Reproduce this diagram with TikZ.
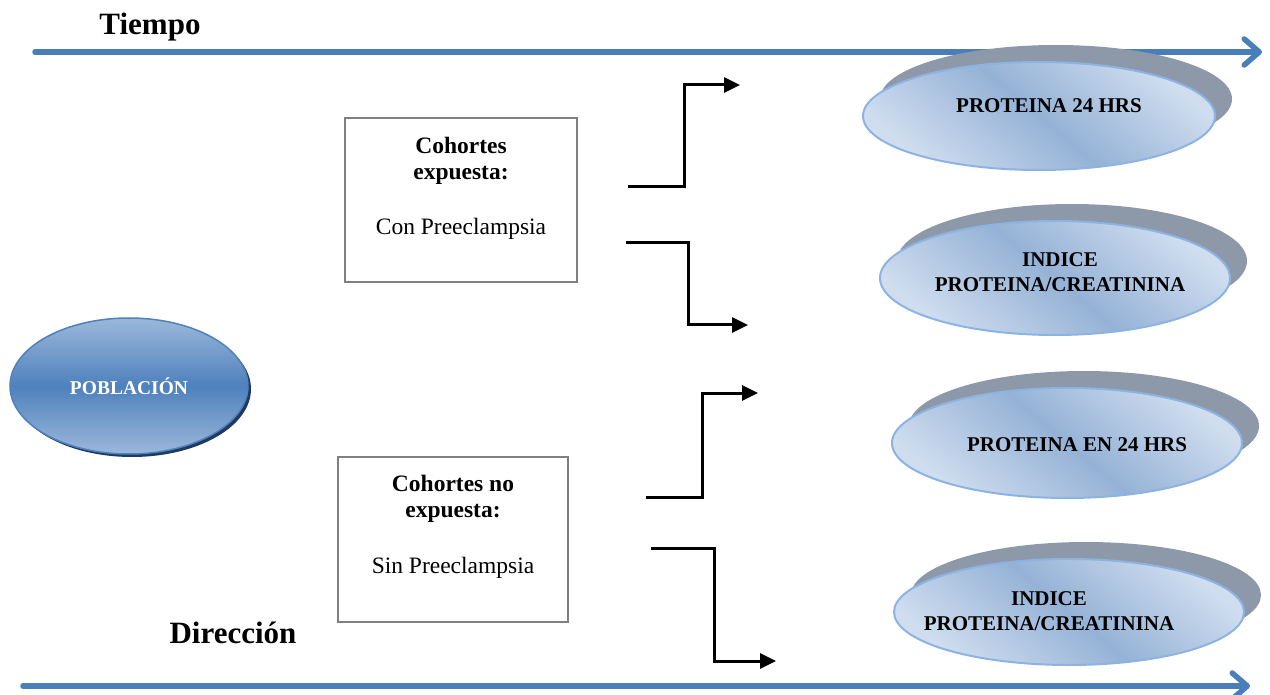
\documentclass[tikz,border=0pt]{standalone}
\usepackage{fontspec}
\setmainfont{Liberation Serif}
\usetikzlibrary{arrows.meta,shapes.geometric,shadows}
\definecolor{axisblue}{HTML}{4A7EBB}
\definecolor{shadowgray}{HTML}{8D99A9}
\definecolor{ellborder}{HTML}{8DB3E2}
\definecolor{elllight}{HTML}{CFDDEF}
\definecolor{ellmid}{HTML}{95B2D6}
\definecolor{popmid}{HTML}{4F81BD}
\definecolor{poplight}{HTML}{9BB8DA}
\definecolor{popshadow}{HTML}{1F3A60}
\definecolor{boxgray}{HTML}{7F7F7F}
\begin{document}
\begin{tikzpicture}[x=1pt,y=-1pt,
  axisarrow/.style={line width=5.5pt,draw=axisblue,line cap=round,
    -{Straight Barb[length=15pt,width=26pt,round]}},
  axislabel/.style={font=\fontsize{31}{34}\selectfont\bfseries,inner sep=0pt},
  cohortbox/.style={draw=boxgray,line width=2pt,rectangle,inner sep=0pt},
  boxtext/.style={font=\fontsize{23.5}{26}\selectfont,align=center,inner sep=0pt},
  result/.style={ellipse,draw=ellborder,line width=2pt,inner sep=0pt,
    top color=elllight,bottom color=elllight,middle color=ellmid,shading angle=-40,
    drop shadow={shadow xshift=17pt,shadow yshift=17pt,fill=shadowgray,opacity=1}},
  resulttext/.style={font=\fontsize{21}{25}\selectfont\bfseries,align=center,inner sep=0pt},
  flow/.style={line width=3pt,draw=black,-{Triangle[length=16pt,width=15pt]}},
]
\useasboundingbox (0,0) rectangle (1270,695);

% time / direction axes
\coordinate (t0) at (35,52);
\coordinate (t1) at (1262,52);
\draw[axisarrow] (t0) -- (t1);
\node[axislabel] (tiempo) at (150,27) {Tiempo};
\coordinate (d0) at (23,686);
\coordinate (d1) at (1250,686);
\draw[axisarrow] (d0) -- (d1);
\node[axislabel] (direccion) at (233,633) {Dirección};

% population
\node[ellipse,draw=popmid,line width=1.5pt,minimum width=238pt,minimum height=136pt,
  top color=poplight,bottom color=poplight,middle color=popmid,
  drop shadow={shadow xshift=3pt,shadow yshift=-3pt,fill=popshadow,opacity=1},
  font=\fontsize{19.5}{22}\selectfont\bfseries,text=white,inner sep=0pt]
  (pob) at (129,386) {POBLACIÓN};

% cohort boxes
\node[cohortbox,minimum width=232pt,minimum height=164pt] (b1) at (461,200) {};
\node[boxtext] (b1t) at (461,188) {\textbf{Cohortes}\\\textbf{expuesta:}\\[29pt]Con Preeclampsia};
\node[cohortbox,minimum width=230pt,minimum height=165pt] (b2) at (453,539.5) {};
\node[boxtext] (b2t) at (453,526.5) {\textbf{Cohortes no}\\\textbf{expuesta:}\\[30pt]Sin Preeclampsia};

% result ellipses
\node[result,minimum width=352pt,minimum height=108pt] (e1) at (1039,116) {};
\node[resulttext] (e1t) at (1049,106) {PROTEINA 24 HRS};
\node[result,minimum width=350pt,minimum height=114pt] (e2) at (1055,278) {};
\node[resulttext] (e2t) at (1060,272) {INDICE\\PROTEINA/CREATININA};
\node[result,minimum width=350pt,minimum height=110pt] (e3) at (1067,443) {};
\node[resulttext] (e3t) at (1077,445) {PROTEINA EN 24 HRS};
\node[result,minimum width=350pt,minimum height=106pt] (e4) at (1069,612) {};
\node[resulttext] (e4t) at (1049,611) {INDICE\\PROTEINA/CREATININA};

% flow connectors
\coordinate (s1) at (628,187);  \coordinate (a1) at (740,85);
\coordinate (s2) at (626,243);  \coordinate (a2) at (748,325);
\coordinate (s3) at (646,497);  \coordinate (a3) at (758,393);
\coordinate (s4) at (651,548);  \coordinate (a4) at (776,661);
\draw[flow] (s1) -- (684,187) |- (a1);
\draw[flow] (s2) -- (688,243) |- (a2);
\draw[flow] (s3) -- (702,497) |- (a3);
\draw[flow] (s4) -- (714,548) |- (a4);
\end{tikzpicture}
\end{document}
